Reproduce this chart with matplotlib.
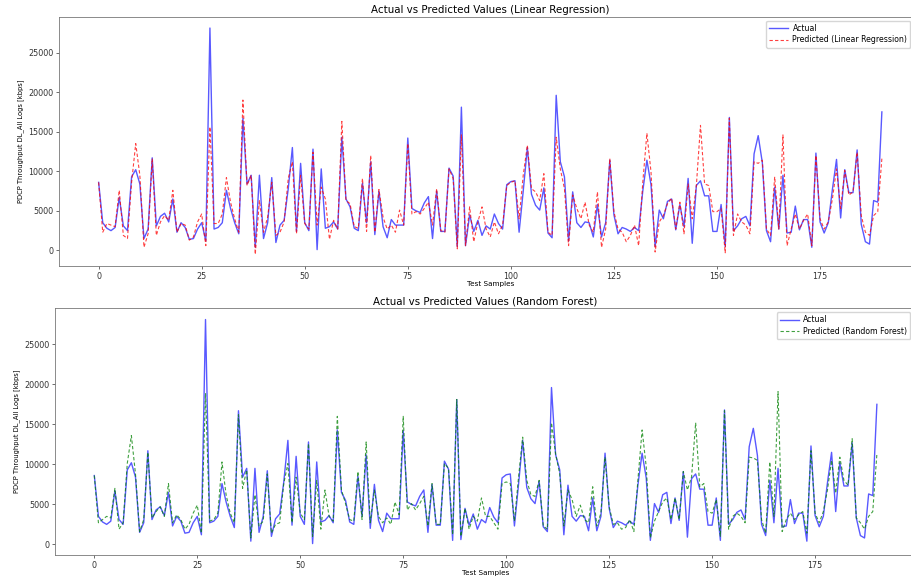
import numpy as np
import matplotlib
matplotlib.use('Agg')
import matplotlib.pyplot as plt

# values in thousands of kbps
actual_k = [
    8.6, 3.5, 2.8, 2.5, 2.9, 6.7, 3.1, 2.5, 9.3, 10.2,
    8.4, 1.5, 2.7, 11.7, 3.1, 4.3, 4.7, 3.6, 6.5, 2.3,
    3.5, 2.9, 1.4, 1.5, 2.7, 3.5, 1.2, 28.1, 2.7, 2.9,
    3.5, 7.6, 5.3, 3.5, 2.1, 16.7, 8.4, 9.5, 0.4, 9.5,
    1.5, 3.5, 9.2, 1.0, 3.2, 3.8, 7.8, 13.0, 2.4, 11.0,
    3.5, 2.5, 12.8, 0.1, 10.3, 2.8, 3.0, 3.6, 2.7, 14.3,
    6.5, 5.5, 2.8, 2.5, 8.5, 3.5, 11.2, 2.0, 7.5, 3.0,
    1.6, 3.9, 3.2, 3.2, 3.2, 14.2, 5.3, 5.0, 4.8, 6.0,
    6.8, 1.5, 7.5, 2.4, 2.4, 10.4, 9.4, 0.5, 18.1, 0.6,
    4.5, 2.4, 3.8, 1.9, 3.1, 2.7, 4.6, 3.4, 2.7, 8.3,
    8.7, 8.8, 2.3, 7.5, 13.0, 7.1, 5.7, 5.1, 7.9, 2.2,
    1.6, 19.6, 11.2, 9.3, 1.2, 7.4, 3.5, 2.9, 3.6, 3.5,
    1.7, 5.8, 1.7, 3.5, 11.4, 4.5, 2.1, 2.9, 2.7, 2.4,
    2.9, 2.5, 7.5, 11.4, 8.3, 0.5, 5.1, 4.0, 6.2, 6.5,
    2.6, 5.8, 3.0, 9.1, 0.9, 8.2, 8.8, 6.9, 6.9, 2.4,
    2.4, 5.8, 0.5, 16.8, 2.5, 3.1, 4.0, 4.3, 3.1, 12.2,
    14.5, 11.1, 2.5, 1.1, 8.0, 2.7, 9.5, 2.2, 2.3, 5.6,
    2.6, 3.9, 3.9, 0.4, 12.3, 3.6, 2.2, 3.5, 7.7, 11.5,
    4.1, 10.2, 7.3, 7.3, 12.7, 3.3, 1.1, 0.8, 6.3, 6.1,
    17.5,
]

pred_lr_k = [
    8.6, 2.3, 3.4, 3.2, 3.0, 7.6, 1.9, 1.5, 8.6, 13.5,
    9.5, 0.4, 2.1, 11.6, 1.9, 3.6, 4.4, 3.8, 7.6, 2.3,
    3.4, 3.2, 1.3, 1.7, 3.6, 4.6, 0.6, 15.6, 3.4, 3.4,
    4.6, 9.2, 6.1, 4.0, 2.3, 19.0, 8.2, 9.5, -0.5, 6.3,
    2.3, 4.2, 8.6, 1.9, 2.3, 3.6, 9.1, 11.2, 2.1, 9.5,
    3.4, 2.7, 12.4, 3.2, 8.0, 6.5, 1.4, 3.8, 2.7, 16.3,
    6.3, 5.9, 3.0, 2.8, 9.1, 2.4, 12.0, 2.3, 7.7, 4.2,
    2.7, 3.2, 2.3, 5.1, 3.2, 13.5, 4.6, 4.9, 4.6, 5.3,
    6.1, 3.2, 7.8, 2.5, 2.3, 10.3, 9.1, 0.2, 14.6, 0.6,
    5.5, 1.1, 3.6, 5.5, 2.7, 1.7, 3.6, 2.1, 3.2, 8.2,
    8.6, 8.8, 4.0, 9.5, 13.3, 7.8, 7.4, 6.3, 9.7, 2.3,
    1.9, 14.3, 10.3, 7.8, 0.6, 7.0, 5.3, 4.0, 6.1, 3.2,
    2.3, 7.4, 0.4, 2.7, 11.6, 4.9, 2.7, 2.3, 1.1, 1.9,
    3.2, 0.6, 8.6, 14.8, 9.9, -0.2, 3.6, 4.4, 5.9, 6.6,
    2.7, 6.1, 2.1, 8.4, 4.0, 8.2, 15.8, 8.4, 8.2, 4.9,
    4.9, 5.3, -0.3, 16.7, 1.9, 4.6, 3.6, 3.2, 2.1, 11.2,
    11.0, 11.4, 2.7, 1.9, 9.3, 2.7, 14.6, 0.6, 2.7, 4.6,
    2.7, 3.8, 4.6, 0.6, 12.0, 4.0, 2.7, 3.6, 6.5, 10.3,
    5.3, 10.1, 7.0, 7.4, 12.4, 4.4, 2.3, 1.9, 4.4, 4.9,
    11.6,
]

pred_rf_k = [
    8.6, 2.7, 3.1, 3.5, 3.3, 7.0, 1.9, 2.7, 10.1, 13.6,
    8.8, 1.6, 3.1, 11.5, 3.3, 4.1, 4.7, 3.5, 7.6, 2.7,
    3.7, 3.1, 1.9, 2.5, 3.9, 4.9, 1.4, 18.9, 2.9, 3.1,
    3.9, 10.3, 6.2, 3.9, 2.7, 16.2, 7.0, 9.3, 0.8, 6.2,
    2.3, 2.9, 8.8, 1.4, 2.5, 2.7, 7.6, 10.1, 2.7, 8.4,
    3.9, 3.1, 12.6, 1.0, 8.0, 1.9, 6.8, 3.5, 2.9, 16.0,
    6.8, 5.1, 3.1, 2.9, 9.1, 3.1, 12.8, 2.7, 6.8, 3.5,
    2.7, 3.3, 2.5, 5.3, 3.7, 16.0, 4.3, 5.1, 4.3, 5.1,
    6.0, 2.3, 7.6, 2.5, 2.5, 10.1, 9.5, 1.2, 18.1, 1.0,
    4.5, 1.9, 3.5, 2.9, 5.8, 3.5, 3.5, 2.7, 1.9, 7.6,
    7.8, 7.6, 2.9, 8.4, 13.4, 8.0, 6.2, 6.0, 8.0, 2.3,
    1.9, 15.2, 11.3, 8.8, 2.3, 6.8, 5.6, 3.5, 4.9, 3.1,
    2.7, 7.2, 2.3, 3.9, 10.9, 4.7, 2.5, 2.7, 1.9, 2.1,
    3.1, 1.6, 8.2, 14.3, 9.7, 0.8, 2.9, 4.1, 5.3, 5.8,
    3.1, 5.8, 3.1, 9.1, 6.8, 8.4, 15.2, 7.2, 7.6, 4.1,
    3.9, 5.6, 1.0, 16.7, 1.9, 3.5, 3.9, 3.5, 2.7, 10.9,
    10.8, 10.5, 3.1, 1.4, 10.3, 3.5, 19.1, 1.6, 3.1, 3.9,
    3.1, 3.7, 4.1, 1.4, 11.7, 3.9, 2.7, 4.1, 6.8, 10.5,
    6.4, 10.9, 8.0, 7.4, 13.2, 3.3, 2.7, 1.9, 3.5, 4.1,
    11.3,
]

actual = np.array(actual_k) * 1000
pred_lr = np.array(pred_lr_k) * 1000
pred_rf = np.array(pred_rf_k) * 1000
samples = np.arange(len(actual))

plt.rcParams.update({
    'font.family': ['DejaVu Sans'],
    'font.size': 6,
    'axes.linewidth': 0.6,
    'xtick.major.width': 0.5,
    'ytick.major.width': 0.5,
    'xtick.major.size': 2.2,
    'ytick.major.size': 2.2,
    'xtick.labelsize': 5.8,
    'ytick.labelsize': 5.8,
})

fig = plt.figure(figsize=(9.12, 5.8), dpi=100)
# the original picture is cropped on the right, so the axes run past the edge
ax1 = fig.add_axes([0.0652, 0.5419, 0.9447, 0.4293])
ax2 = fig.add_axes([0.0605, 0.0435, 0.9439, 0.4249])

panels = [
    (ax1, pred_lr, 'red', 'Predicted (Linear Regression)',
     'Actual vs Predicted Values (Linear Regression)'),
    (ax2, pred_rf, 'green', 'Predicted (Random Forest)',
     'Actual vs Predicted Values (Random Forest)'),
]

for ax, pred, color, label, title in panels:
    ax.plot(samples, actual, color='blue', alpha=0.65, linewidth=1.0, label='Actual')
    ax.plot(samples, pred, color=color, alpha=0.75, linewidth=0.8,
            linestyle=(0, (3, 2)), label=label)
    ax.set_title(title, fontsize=7.4, pad=3)
    ax.set_xlabel('Test Samples', fontsize=5.2, labelpad=0)
    ax.set_ylabel('PDCP Throughput DL_All Logs [kbps]', fontsize=4.9, labelpad=3)
    ax.set_xticks([0, 25, 50, 75, 100, 125, 150, 175])
    ax.tick_params(pad=2, colors='#333333')
    for s in ax.spines.values():
        s.set_color('#777777')
    top = ax.get_position().y1
    ax.legend(loc='upper right', bbox_to_anchor=(1.0, top - 0.004),
              bbox_transform=fig.transFigure, borderaxespad=0.2,
              fontsize=5.6, handlelength=2.4, handletextpad=0.6,
              borderpad=0.4, labelspacing=0.35, framealpha=0.8)

fig.savefig('out.png', dpi=100)
plt.close(fig)
